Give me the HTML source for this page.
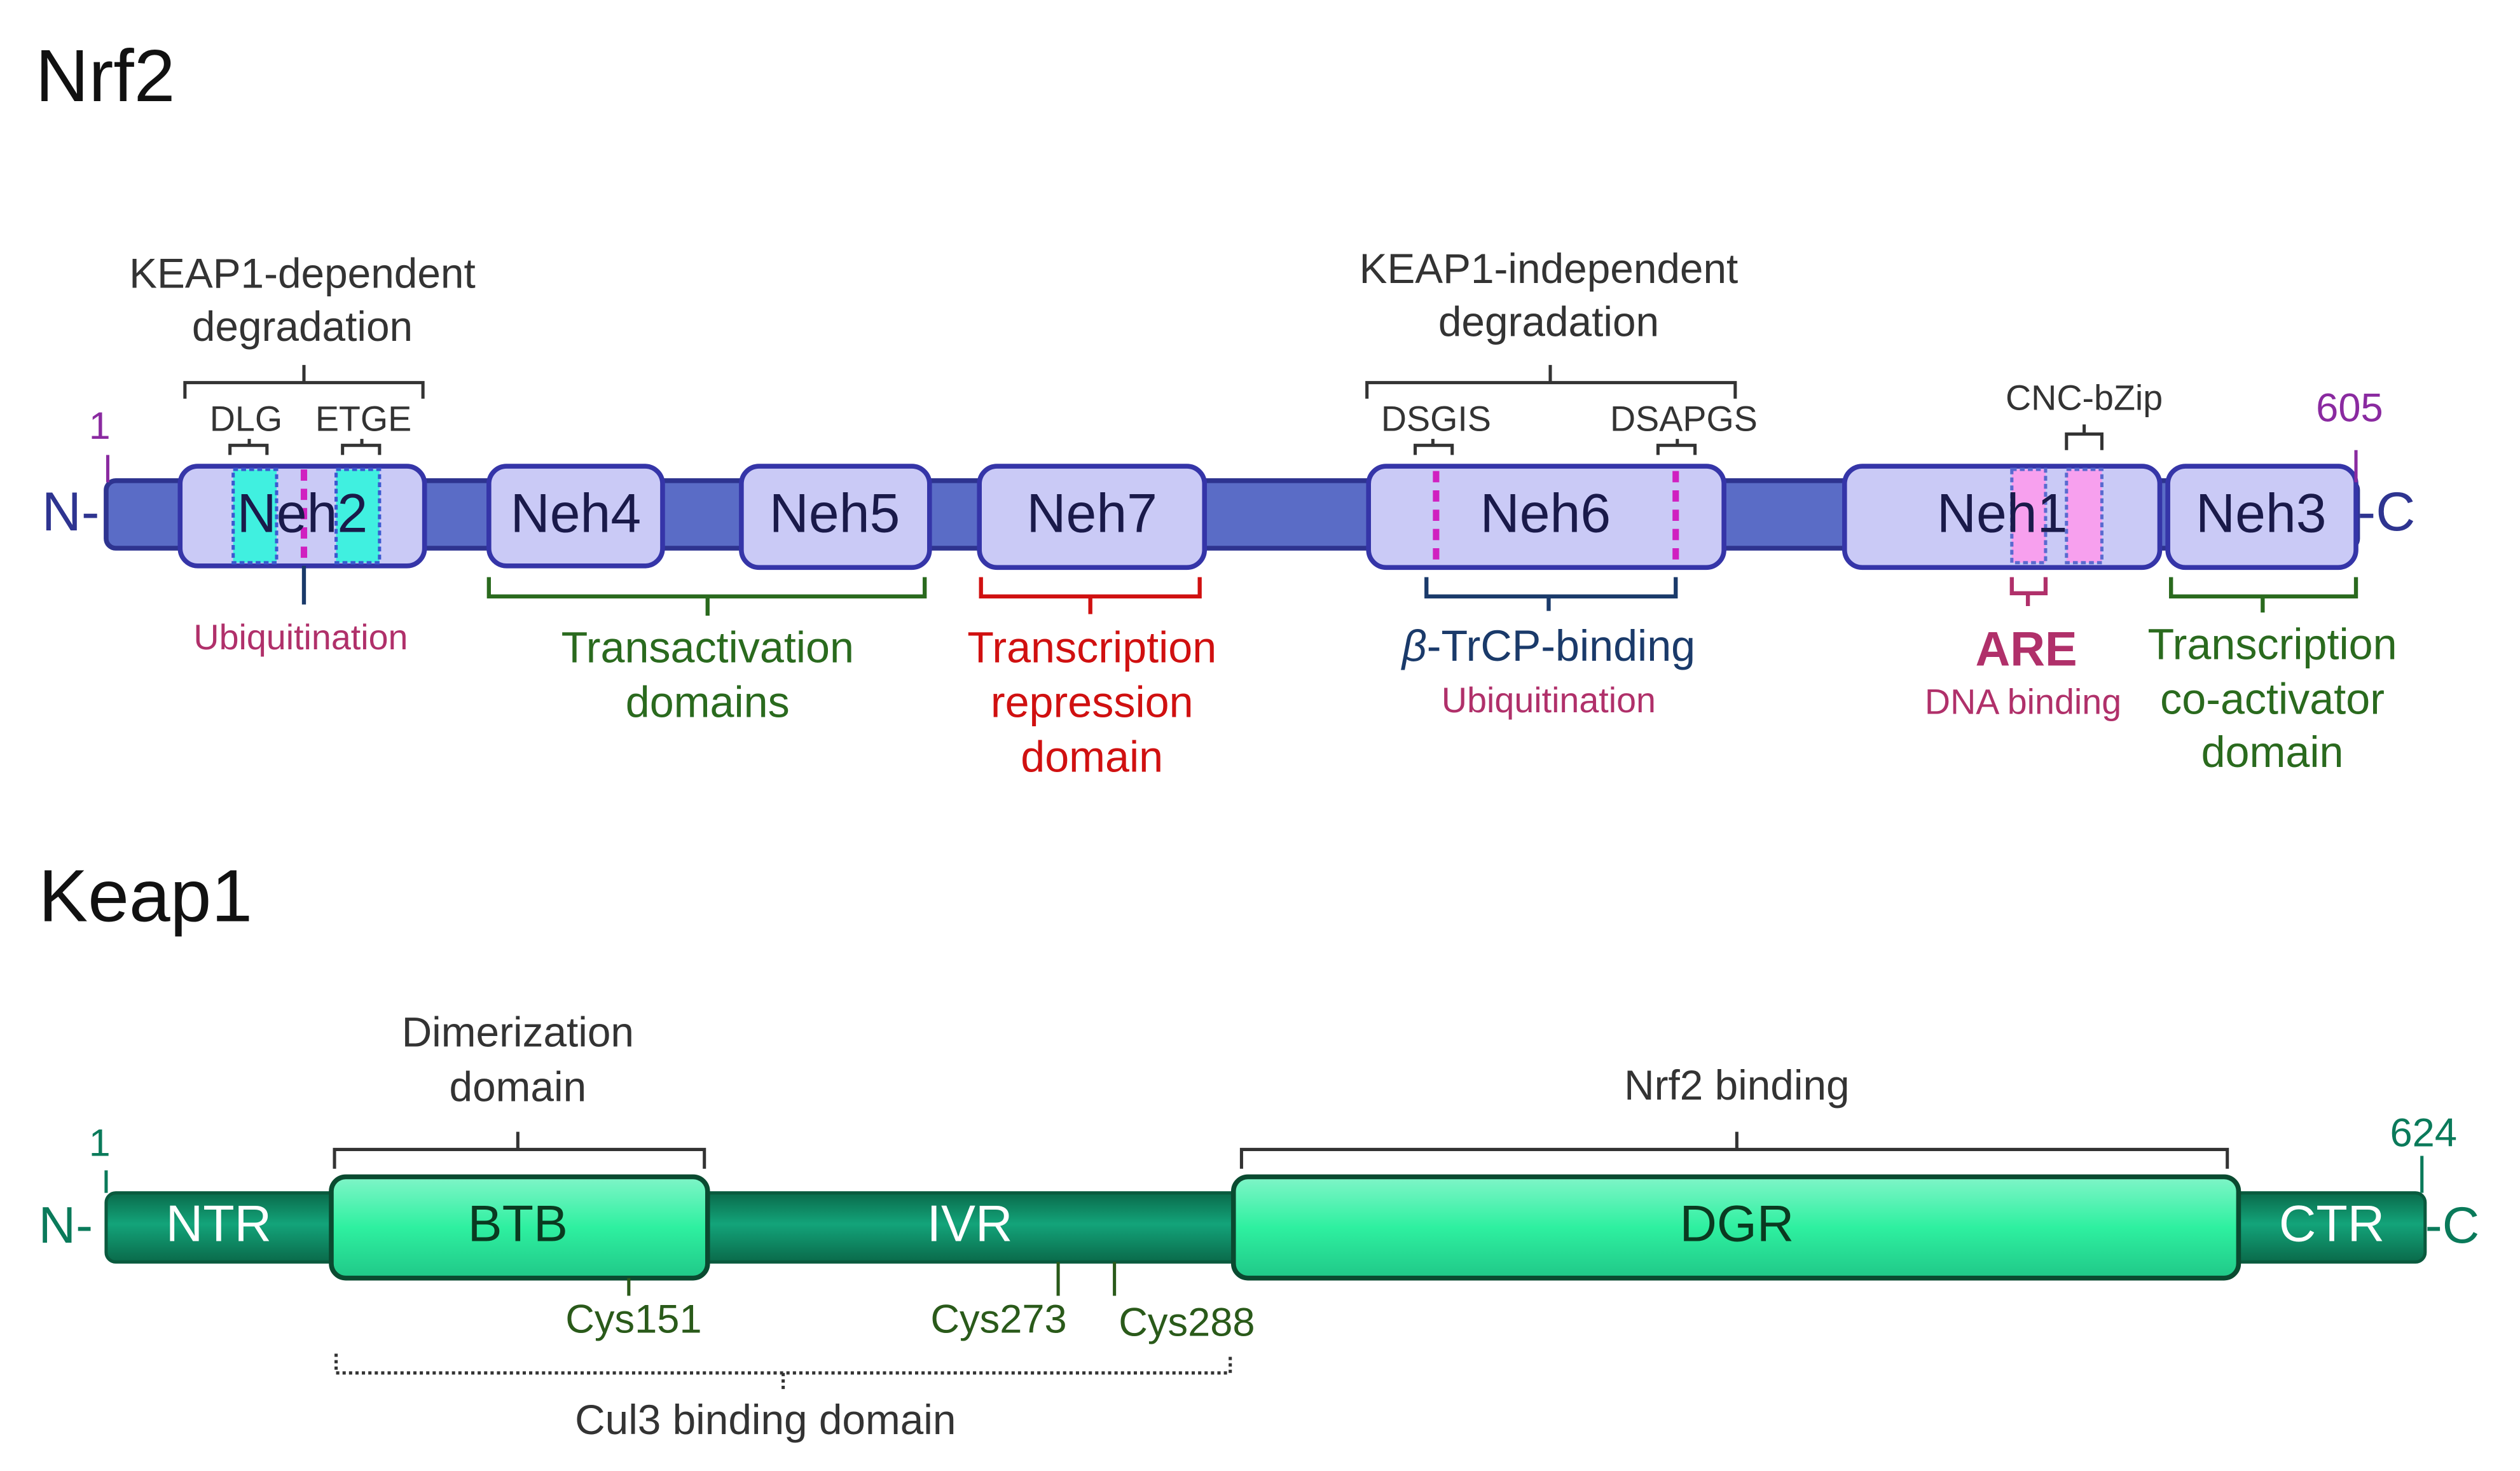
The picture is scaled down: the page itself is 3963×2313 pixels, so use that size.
<!DOCTYPE html>
<html><head><meta charset="utf-8"><style>html,body{margin:0;padding:0;background:#fff}svg{display:block}text{font-family:"Liberation Sans",Arial,sans-serif}</style></head>
<body>
<svg width="3963" height="2313" viewBox="0 0 1567 915" preserveAspectRatio="none" xmlns="http://www.w3.org/2000/svg">
<defs>
<linearGradient id="gbar" x1="0" y1="0" x2="0" y2="1">
<stop offset="0" stop-color="#0a6a4a"/><stop offset="0.45" stop-color="#13a47a"/><stop offset="1" stop-color="#0a6a4a"/></linearGradient>
<linearGradient id="gbox" x1="0" y1="0" x2="0" y2="1">
<stop offset="0" stop-color="#80f5c8"/><stop offset="0.5" stop-color="#2ef0a0"/><stop offset="1" stop-color="#20c888"/></linearGradient>
</defs>
<rect width="1567" height="915" fill="#fff"/>
<text x="22" y="63" font-size="46" fill="#111">Nrf2</text>

<rect x="66" y="299" width="1400" height="42" rx="6" fill="#5a6cc6" stroke="#2e3490" stroke-width="3"/>
<g fill="#cacaf6" stroke="#3535a8" stroke-width="3">
<rect x="112" y="290" width="152" height="62" rx="11"/>
<rect x="304" y="290" width="108" height="62" rx="11"/>
<rect x="461" y="290" width="117" height="63" rx="11"/>
<rect x="609" y="290" width="140" height="63" rx="11"/>
<rect x="851" y="290" width="221" height="63" rx="11"/>
<rect x="1147" y="290" width="196" height="63" rx="11"/>
<rect x="1348" y="290" width="117" height="63" rx="11"/>
</g>
<g fill="#40f0e0" stroke="#3a5ad0" stroke-width="2" stroke-dasharray="3,2">
<rect x="145" y="292" width="27" height="58"/>
<rect x="209" y="292" width="27" height="58"/>
</g>
<g fill="#f7a0ee" stroke="#5a6ad0" stroke-width="2" stroke-dasharray="3,2">
<rect x="1251" y="292" width="21" height="58"/>
<rect x="1285" y="292" width="22" height="58"/>
</g>
<g stroke="#d020c0" stroke-width="4" stroke-dasharray="7,5">
<line x1="189" y1="292" x2="189" y2="350"/>
<line x1="893" y1="293" x2="893" y2="350"/>
<line x1="1042" y1="293" x2="1042" y2="350"/>
</g>
<g font-size="34" fill="#1a1a4a" text-anchor="middle">
<text x="188" y="331">Neh2</text><text x="358" y="331">Neh4</text><text x="519" y="331">Neh5</text>
<text x="679" y="331">Neh7</text><text x="961" y="331">Neh6</text><text x="1245" y="331">Neh1</text><text x="1406" y="331">Neh3</text>
</g>
<text x="26" y="330" font-size="34" fill="#2e3490">N-</text>
<text x="1466" y="330" font-size="34" fill="#2e3490">-C</text>
<text x="62" y="273" font-size="24" fill="#8a2aa0" text-anchor="middle">1</text>
<line x1="67" y1="283" x2="67" y2="300" stroke="#8a2aa0" stroke-width="2"/>
<text x="1461" y="262" font-size="25" fill="#8a2aa0" text-anchor="middle">605</text>
<line x1="1465" y1="280" x2="1465" y2="300" stroke="#8a2aa0" stroke-width="2"/>

<g font-size="26" fill="#333" text-anchor="middle">
<text x="188" y="179">KEAP1-dependent</text><text x="188" y="212">degradation</text>
<text x="963" y="176">KEAP1-independent</text><text x="963" y="209">degradation</text>
</g>
<g font-size="22" fill="#333" text-anchor="middle">
<text x="153" y="268">DLG</text><text x="226" y="268">ETGE</text>
<text x="893" y="268">DSGIS</text><text x="1047" y="268">DSAPGS</text>
<text x="1296" y="255">CNC-bZip</text>
</g>
<g fill="none" stroke="#333" stroke-width="2">
<path d="M115 248 V238 H263 V248 M189 238 V227"/>
<path d="M850 248 V238 H1079 V248 M964 238 V227"/>
<path d="M143 283 V277 H166 V283 M155 277 V273"/>
<path d="M213 283 V277 H236 V283 M225 277 V273"/>
<path d="M880 283 V277 H903 V283 M891 277 V273"/>
<path d="M1031 283 V277 H1054 V283 M1043 277 V273"/>
<path d="M1285 280 V270 H1307 V280 M1296 270 V264"/>
</g>

<line x1="189" y1="352" x2="189" y2="376" stroke="#1a3a6a" stroke-width="2.5"/>
<path d="M304 359 V371 H575 V359 M440 371 V383" fill="none" stroke="#2a6a1e" stroke-width="2.5"/>
<path d="M610 359 V371 H746 V359 M678 371 V382" fill="none" stroke="#d01010" stroke-width="2.5"/>
<path d="M887 359 V371 H1042 V359 M963 371 V380" fill="none" stroke="#1a3a6a" stroke-width="2.5"/>
<path d="M1251 359 V369 H1272 V359 M1261 369 V377" fill="none" stroke="#b0306a" stroke-width="2.5"/>
<path d="M1350 359 V371 H1465 V359 M1407 371 V381" fill="none" stroke="#2a6a1e" stroke-width="2.5"/>

<g font-size="22" fill="#b0306a" text-anchor="middle">
<text x="187" y="404">Ubiquitination</text>
<text x="963" y="443">Ubiquitination</text>
<text x="1258" y="444">DNA binding</text>
</g>
<g font-size="27" fill="#2a6a1e" text-anchor="middle">
<text x="440" y="412">Transactivation</text><text x="440" y="446">domains</text>
<text x="1413" y="410">Transcription</text><text x="1413" y="444">co-activator</text><text x="1413" y="477">domain</text>
</g>
<g font-size="27" fill="#d01010" text-anchor="middle">
<text x="679" y="412">Transcription</text><text x="679" y="446">repression</text><text x="679" y="480">domain</text>
</g>
<text x="963" y="411" font-size="27" fill="#1a3a6a" text-anchor="middle"><tspan font-style="italic">β</tspan>-TrCP-binding</text>
<text x="1260" y="414" font-size="30" font-weight="bold" fill="#b0306a" text-anchor="middle">ARE</text>

<text x="24" y="573" font-size="46" fill="#111">Keap1</text>
<rect x="66" y="742" width="1442" height="43" rx="6" fill="url(#gbar)" stroke="#0a5a3e" stroke-width="2"/>
<rect x="206" y="732" width="234" height="63" rx="9" fill="url(#gbox)" stroke="#0a4a30" stroke-width="3"/>
<rect x="767" y="732" width="625" height="63" rx="9" fill="url(#gbox)" stroke="#0a4a30" stroke-width="3"/>
<g font-size="32" text-anchor="middle">
<text x="136" y="772" fill="#fff">NTR</text><text x="603" y="772" fill="#fff">IVR</text><text x="1450" y="772" fill="#fff">CTR</text>
<text x="322" y="772" fill="#0a3a20">BTB</text><text x="1080" y="772" fill="#0a3a20">DGR</text>
</g>
<text x="24" y="773" font-size="32" fill="#0a7a5a">N-</text>
<text x="1508" y="773" font-size="32" fill="#0a7a5a">-C</text>
<text x="62" y="719" font-size="24" fill="#0a7a5a" text-anchor="middle">1</text>
<line x1="66" y1="728" x2="66" y2="742" stroke="#0a7a5a" stroke-width="2"/>
<text x="1507" y="713" font-size="25" fill="#0a7a5a" text-anchor="middle">624</text>
<line x1="1506" y1="719" x2="1506" y2="742" stroke="#0a7a5a" stroke-width="2"/>
<g font-size="26" fill="#333" text-anchor="middle">
<text x="322" y="651">Dimerization</text><text x="322" y="685">domain</text>
<text x="1080" y="684">Nrf2 binding</text>
<text x="476" y="892">Cul3 binding domain</text>
</g>
<g fill="none" stroke="#333" stroke-width="2">
<path d="M208 727 V715 H438 V727 M322 715 V704"/>
<path d="M772 727 V715 H1385 V727 M1080 715 V704"/>
<path d="M209 842 V854 H765 V842 M487 854 V865" stroke-dasharray="2,2"/>
</g>
<g stroke="#2a5a1a" stroke-width="2">
<line x1="391" y1="795" x2="391" y2="806"/><line x1="658" y1="785" x2="658" y2="806"/><line x1="693" y1="785" x2="693" y2="806"/>
</g>
<g font-size="25" fill="#2a5a1a" text-anchor="middle">
<text x="394" y="829">Cys151</text><text x="621" y="829">Cys273</text><text x="738" y="831">Cys288</text>
</g>
</svg>
</body></html>
